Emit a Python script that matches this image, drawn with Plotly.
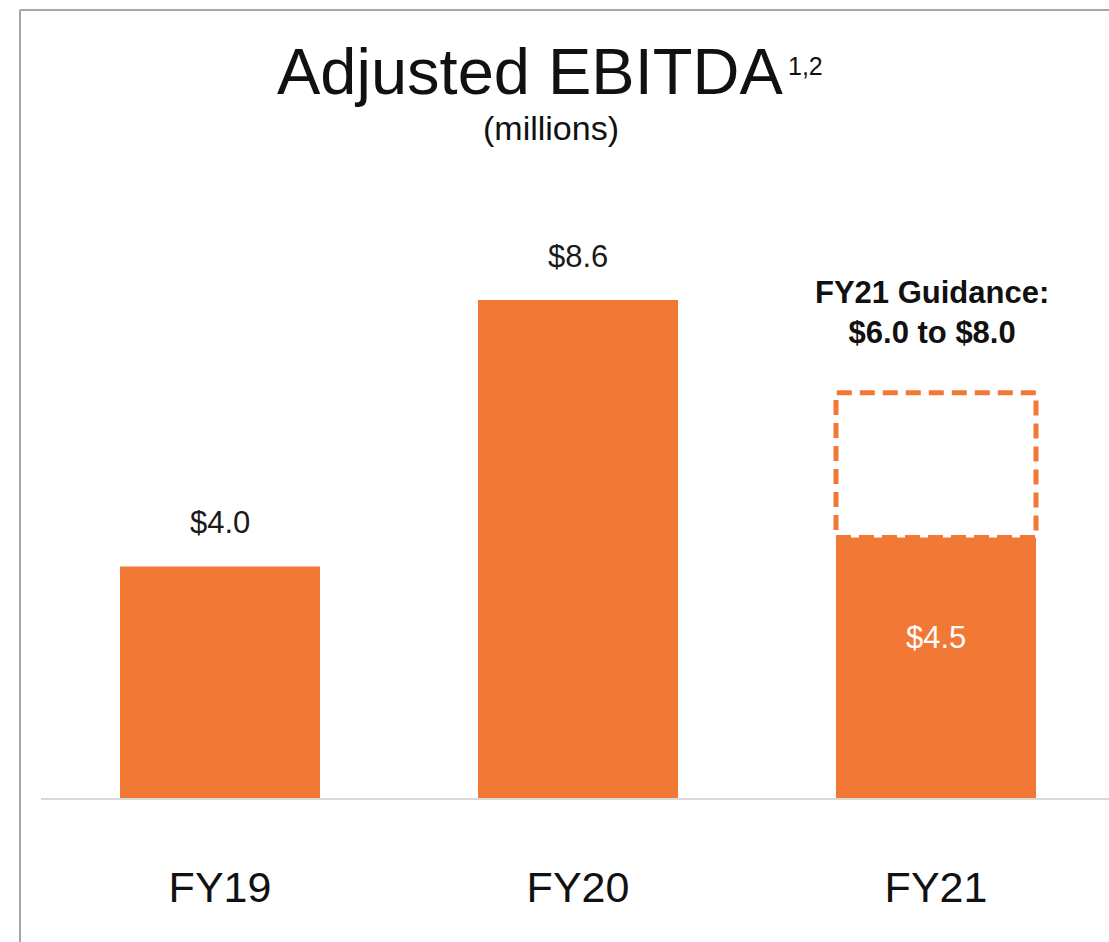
import plotly.graph_objects as go

# ---- data ----
categories = ["FY19", "FY20", "FY21"]
values = [4.0, 8.6, 4.5]
value_labels = ["$4.0", "$8.6", "$4.5"]
guidance_top = 7.0          # midpoint of FY21 guidance ($6.0 to $8.0)
guidance_text = "FY21 Guidance:<br>$6.0 to $8.0"
title_text = "Adjusted EBITDA"
title_sup = "1,2"
subtitle_text = "(millions)"

ORANGE = "#F27835"
W, H = 1109, 942
ML, MR, MT, MB = 41, 0, 0, 144
PW, PH = W - ML - MR, H - MT - MB

def px_x(px):
    return (px - ML) / PW

def px_y(py):
    return (H - MB - py) / PH

bar_frac = 0.5587
fig = go.Figure()
fig.add_trace(go.Bar(
    x=categories, y=values,
    marker=dict(color=ORANGE, line=dict(width=0)),
    width=bar_frac,
    hoverinfo="skip",
))

FONT = "Liberation Sans, Arial, sans-serif"
annotations = []
# value labels
for i, (c, v, lab) in enumerate(zip(categories, values, value_labels)):
    if i < 2:
        annotations.append(dict(x=c, y=v, xref="x", yref="y", text=lab, showarrow=False,
                                yanchor="middle", yshift=44,
                                font=dict(family=FONT, size=31, color="#1a1a1a")))
    else:
        annotations.append(dict(x=c, y=v / 2, xref="x", yref="y", text=lab, showarrow=False,
                                yanchor="middle", yshift=30,
                                font=dict(family=FONT, size=31, color="white")))

# guidance text
annotations.append(dict(x=categories[2], y=guidance_top, xref="x", yref="y", text="<b>" + guidance_text + "</b>",
                        showarrow=False, yanchor="middle", yshift=80, xshift=-4,
                        font=dict(family=FONT, size=31, color="#111111")))

# title
annotations.append(dict(x=px_x(785), y=px_y(71), xref="paper", yref="paper", text=title_text,
                        showarrow=False, xanchor="right", yanchor="middle",
                        font=dict(family=FONT, size=65, color="#111111")))
annotations.append(dict(x=px_x(786), y=px_y(66), xref="paper", yref="paper", text=title_sup,
                        showarrow=False, xanchor="left", yanchor="middle",
                        font=dict(family=FONT, size=25, color="#111111")))
annotations.append(dict(x=px_x(551), y=px_y(128), xref="paper", yref="paper", text=subtitle_text,
                        showarrow=False, xanchor="center", yanchor="middle",
                        font=dict(family=FONT, size=34, color="#111111")))

shapes = [
    # guidance dashed box
    dict(type="rect", xref="x", yref="y",
         x0=2 - bar_frac / 2, x1=2 + bar_frac / 2, y0=values[2], y1=guidance_top,
         line=dict(color=ORANGE, width=5, dash="15px,8px"), fillcolor="rgba(0,0,0,0)", layer="above"),
    # frame top
    dict(type="line", xref="paper", yref="paper", x0=px_x(20), x1=px_x(W + 5), y0=px_y(10), y1=px_y(10),
         line=dict(color="#a6a6a6", width=2)),
    # frame left
    dict(type="line", xref="paper", yref="paper", x0=px_x(20), x1=px_x(20), y0=px_y(10), y1=px_y(H + 5),
         line=dict(color="#a6a6a6", width=2)),
]

fig.update_layout(
    width=W, height=H,
    margin=dict(l=ML, r=MR, t=MT, b=MB, pad=0),
    paper_bgcolor="white", plot_bgcolor="white",
    showlegend=False,
    annotations=annotations,
    shapes=shapes,
    xaxis=dict(range=[-0.5, -0.5 + PW / 358.0], showgrid=False, zeroline=False,
               showline=True, linecolor="#d9d9d9", linewidth=2,
               ticks="outside", ticklen=50, tickcolor="rgba(0,0,0,0)",
               tickfont=dict(family=FONT, size=43, color="#111111")),
    yaxis=dict(range=[0, PH / 57.9], showgrid=False, zeroline=False, showticklabels=False,
               showline=False),
)

fig.write_html("out.html", config={"displayModeBar": False},
               post_script="document.body.style.margin='0';document.body.style.overflow='hidden';")
